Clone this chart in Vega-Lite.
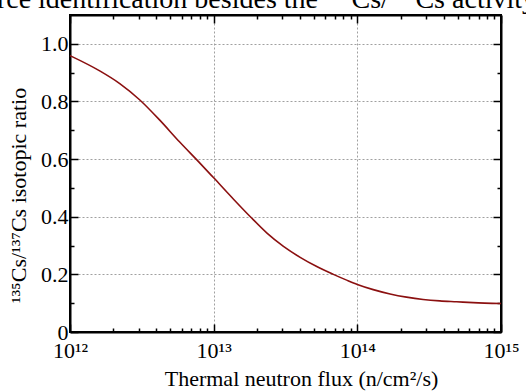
{
  "$schema": "https://vega.github.io/schema/vega-lite/v6.json",
  "width": 431,
  "height": 317,
  "autosize": "none",
  "padding": {"left": 70, "top": 15, "right": 25, "bottom": 60},
  "background": "white",
  "config": {
    "view": {"stroke": "black", "strokeWidth": 2},
    "font": "Liberation Serif"
  },
  "title": {
    "text": "source identification besides the ¹³⁵Cs/¹³⁷Cs activity",
    "anchor": "start",
    "frame": "group",
    "dx": -112,
    "dy": 22,
    "offset": 0,
    "baseline": "alphabetic",
    "font": "Liberation Serif",
    "fontSize": 28,
    "fontWeight": "normal",
    "color": "black"
  },
  "data": {
    "values": [
      {"flux": 1e12, "ratio": 0.959},
      {"flux": 1.61e12, "ratio": 0.906},
      {"flux": 2.22e12, "ratio": 0.862},
      {"flux": 3.05e12, "ratio": 0.806},
      {"flux": 4.2e12, "ratio": 0.736},
      {"flux": 5.78e12, "ratio": 0.66},
      {"flux": 8.02e12, "ratio": 0.586},
      {"flux": 1e13, "ratio": 0.535},
      {"flux": 1.38e13, "ratio": 0.46},
      {"flux": 1.8e13, "ratio": 0.4},
      {"flux": 2.35e13, "ratio": 0.343},
      {"flux": 3.06e13, "ratio": 0.297},
      {"flux": 4.0e13, "ratio": 0.259},
      {"flux": 5.22e13, "ratio": 0.227},
      {"flux": 6.81e13, "ratio": 0.2},
      {"flux": 8.43e13, "ratio": 0.18},
      {"flux": 1e14, "ratio": 0.165},
      {"flux": 1.29e14, "ratio": 0.147},
      {"flux": 1.69e14, "ratio": 0.132},
      {"flux": 2.2e14, "ratio": 0.121},
      {"flux": 2.87e14, "ratio": 0.113},
      {"flux": 3.75e14, "ratio": 0.108},
      {"flux": 4.9e14, "ratio": 0.105},
      {"flux": 6.4e14, "ratio": 0.102},
      {"flux": 1e15, "ratio": 0.099}
    ]
  },
  "resolve": {"axis": {"x": "independent", "y": "independent"}},
  "layer": [
    {
      "mark": {"type": "line", "color": "#8b1010", "strokeWidth": 1.6, "interpolate": "monotone"},
      "encoding": {
        "x": {
          "field": "flux", "type": "quantitative",
          "scale": {"type": "log", "domain": [1e12, 1e15], "nice": false},
          "axis": {
            "orient": "bottom",
            "values": [1e12, 2e12, 3e12, 4e12, 5e12, 6e12, 7e12, 8e12, 9e12, 1e13, 2e13, 3e13, 4e13, 5e13, 6e13, 7e13, 8e13, 9e13, 1e14, 2e14, 3e14, 4e14, 5e14, 6e14, 7e14, 8e14, 9e14, 1e15],
            "labelExpr": "datum.value == 1e12 ? '10¹²' : datum.value == 1e13 ? '10¹³' : datum.value == 1e14 ? '10¹⁴' : datum.value == 1e15 ? '10¹⁵' : ''",
            "tickSize": {"condition": {"test": "indexof([1e12, 1e13, 1e14, 1e15], datum.value) >= 0", "value": -8}, "value": -4},
            "gridOpacity": {"condition": {"test": "indexof([1e12, 1e13, 1e14, 1e15], datum.value) >= 0", "value": 1}, "value": 0},
            "grid": true,
            "gridDash": [2, 2],
            "gridColor": "#a0a0a0",
            "gridWidth": 1,
            "domainColor": "black",
            "domainWidth": 2,
            "tickColor": "black",
            "tickWidth": 1.5,
            "labelPadding": 16,
            "labelFont": "Liberation Serif",
            "labelFontSize": 22,
            "labelColor": "black",
            "labelOverlap": false,
            "labelFlush": false,
            "labelBound": false,
            "title": "Thermal neutron flux (n/cm²/s)",
            "titleFont": "Liberation Serif",
            "titleFontSize": 22,
            "titleFontWeight": "normal",
            "titleColor": "black",
            "titleX": 231,
            "titleY": 53,
            "titleBaseline": "alphabetic",
            "titleAlign": "center"
          }
        },
        "y": {
          "field": "ratio", "type": "quantitative",
          "scale": {"domain": [0, 1.1], "nice": false, "zero": false},
          "axis": {
            "orient": "left",
            "values": [0, 0.1, 0.2, 0.3, 0.4, 0.5, 0.6, 0.7, 0.8, 0.9, 1.0],
            "labelExpr": "round(datum.value * 10) % 2 == 0 ? (datum.value == 0 ? '0' : format(datum.value, '.1f')) : ''",
            "tickSize": {"condition": {"test": "round(datum.value * 10) % 2 == 0", "value": -8}, "value": -4},
            "gridOpacity": {"condition": {"test": "round(datum.value * 10) % 2 == 0", "value": 1}, "value": 0},
            "grid": true,
            "gridDash": [2, 2],
            "gridColor": "#a0a0a0",
            "gridWidth": 1,
            "domainColor": "black",
            "domainWidth": 2,
            "tickColor": "black",
            "tickWidth": 1.5,
            "labelPadding": 10,
            "labelFont": "Liberation Serif",
            "labelFontSize": 22,
            "labelColor": "black",
            "labelOverlap": false,
            "labelFlush": false,
            "labelBound": false,
            "title": "¹³⁵Cs/¹³⁷Cs isotopic ratio",
            "titleFont": "Liberation Serif",
            "titleFontSize": 22,
            "titleFontWeight": "normal",
            "titleColor": "black",
            "titleX": -52,
            "titleY": 180,
            "titleBaseline": "middle",
            "titleAlign": "center",
            "titleAngle": -90
          }
        }
      }
    },
    {
      "mark": {"type": "line", "opacity": 0},
      "encoding": {
        "x": {
          "field": "flux", "type": "quantitative",
          "scale": {"type": "log", "domain": [1e12, 1e15], "nice": false},
          "axis": {
            "orient": "top",
            "values": [1e12, 2e12, 3e12, 4e12, 5e12, 6e12, 7e12, 8e12, 9e12, 1e13, 2e13, 3e13, 4e13, 5e13, 6e13, 7e13, 8e13, 9e13, 1e14, 2e14, 3e14, 4e14, 5e14, 6e14, 7e14, 8e14, 9e14, 1e15],
            "labels": false,
            "grid": false,
            "title": null,
            "tickSize": {"condition": {"test": "indexof([1e12, 1e13, 1e14, 1e15], datum.value) >= 0", "value": -8}, "value": -4},
            "domainColor": "black",
            "domainWidth": 2,
            "tickColor": "black",
            "tickWidth": 1.5
          }
        },
        "y": {
          "field": "ratio", "type": "quantitative",
          "scale": {"domain": [0, 1.1], "nice": false, "zero": false},
          "axis": {
            "orient": "right",
            "values": [0, 0.1, 0.2, 0.3, 0.4, 0.5, 0.6, 0.7, 0.8, 0.9, 1.0],
            "labels": false,
            "grid": false,
            "title": null,
            "tickSize": {"condition": {"test": "round(datum.value * 10) % 2 == 0", "value": -8}, "value": -4},
            "domainColor": "black",
            "domainWidth": 2,
            "tickColor": "black",
            "tickWidth": 1.5
          }
        }
      }
    }
  ]
}
